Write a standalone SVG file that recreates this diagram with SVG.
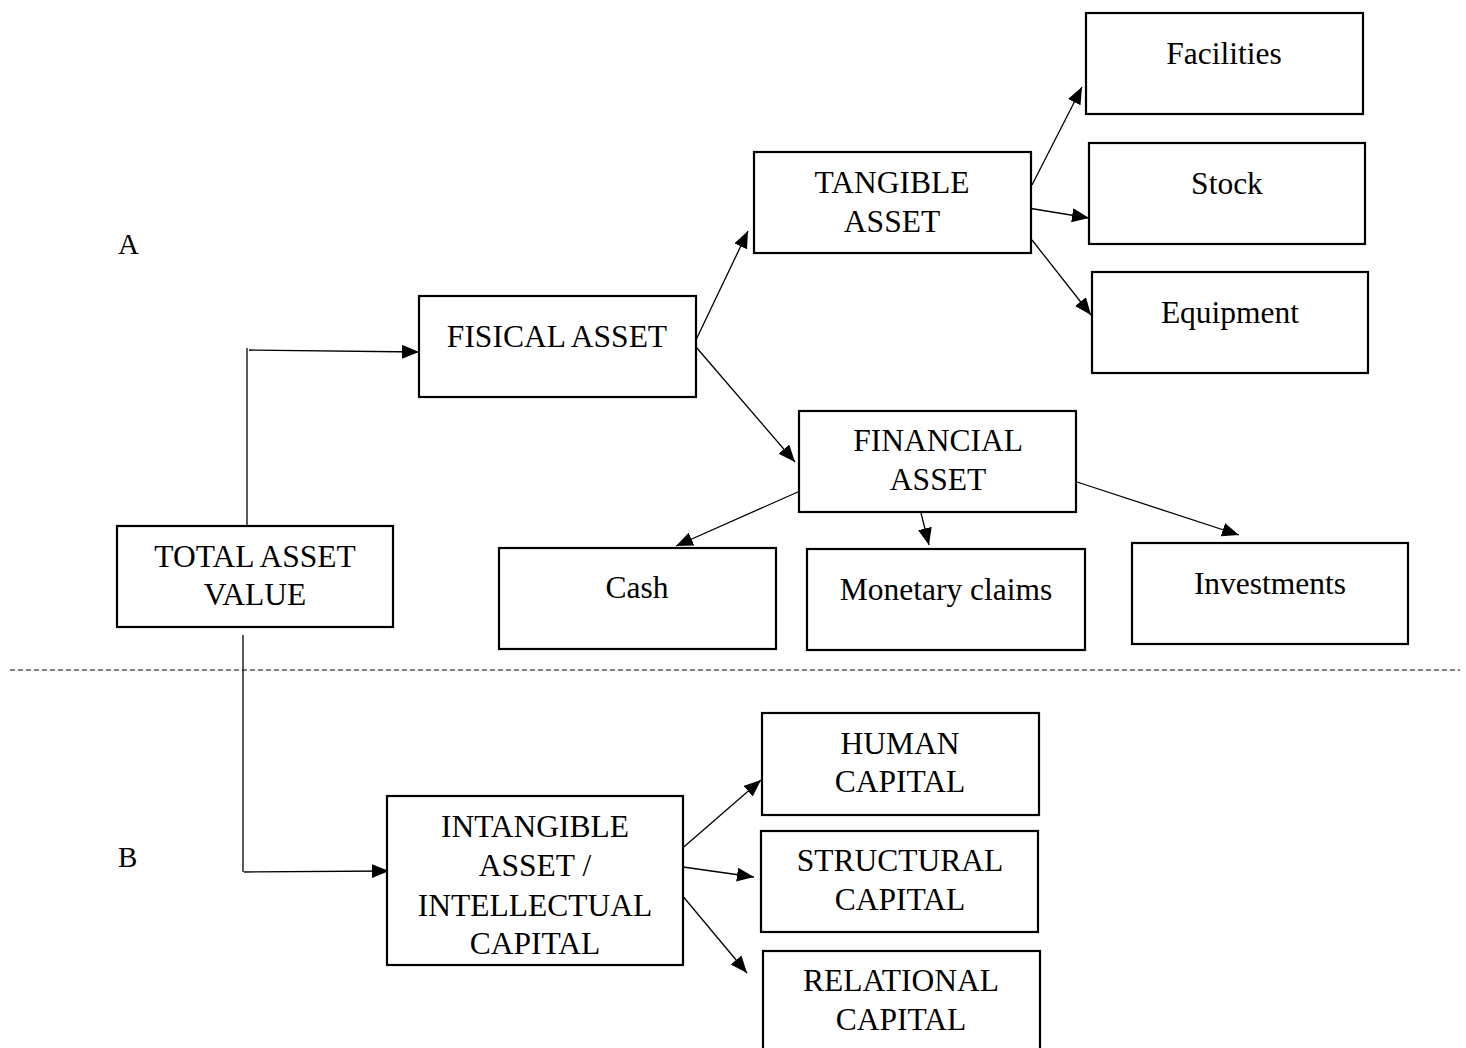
<svg xmlns="http://www.w3.org/2000/svg" width="1466" height="1048" viewBox="0 0 1466 1048">
<style>
.box{fill:#fff;stroke:#000;stroke-width:2.2}
.t{font-family:"Liberation Serif","Times New Roman",serif;font-size:31.5px;fill:#000;text-anchor:middle}
.lbl{font-family:"Liberation Serif","Times New Roman",serif;font-size:29px;fill:#000}
.c{fill:none;stroke:#000;stroke-width:1.3}
.a{marker-end:url(#ah)}
</style>
<defs>
<marker id="ah" markerUnits="userSpaceOnUse" markerWidth="18" markerHeight="15" refX="17" refY="7" orient="auto">
<path d="M0,0 L17,7 L0,14 z" fill="#000"/>
</marker>
</defs>
<rect width="1466" height="1048" fill="#fff"/>
<text class="lbl" x="118" y="254">A</text>
<text class="lbl" x="118" y="867">B</text>
<line x1="10" y1="670" x2="1460" y2="670" stroke="#000" stroke-width="1.2" stroke-dasharray="5,3"/>
<g id="connectors">
<path class="c" d="M247,526 V348"/>
<path class="c a" d="M249,350 L419,352"/>
<path class="c" d="M243,635 V872"/>
<path class="c a" d="M244,872 L389,871"/>
<path class="c a" d="M695,342 L748,231"/>
<path class="c a" d="M696,347 L795,462"/>
<path class="c a" d="M1032,185 L1082,87"/>
<path class="c a" d="M1028,208 L1089,218"/>
<path class="c a" d="M1032,240 L1091,315"/>
<path class="c a" d="M800,491 L676,546"/>
<path class="c a" d="M921,513 L929,545"/>
<path class="c a" d="M1077,482 L1239,535"/>
<path class="c a" d="M678,852 L761,780"/>
<path class="c a" d="M683,867 L754,877"/>
<path class="c a" d="M681,894 L747,973"/>
</g>
<g id="total"><rect class="box" x="117" y="526" width="276" height="101"/><text class="t" x="255" y="567">TOTAL ASSET</text><text class="t" x="255" y="605">VALUE</text></g>
<g id="fisical"><rect class="box" x="419" y="296" width="277" height="101"/><text class="t" x="557" y="347">FISICAL ASSET</text></g>
<g id="tangible"><rect class="box" x="754" y="152" width="277" height="101"/><text class="t" x="892" y="193">TANGIBLE</text><text class="t" x="892" y="232">ASSET</text></g>
<g id="facilities"><rect class="box" x="1086" y="13" width="277" height="101"/><text class="t" x="1224" y="64">Facilities</text></g>
<g id="stock"><rect class="box" x="1089" y="143" width="276" height="101"/><text class="t" x="1227" y="194">Stock</text></g>
<g id="equipment"><rect class="box" x="1092" y="272" width="276" height="101"/><text class="t" x="1230" y="323">Equipment</text></g>
<g id="financial"><rect class="box" x="799" y="411" width="277" height="101"/><text class="t" x="938" y="451">FINANCIAL</text><text class="t" x="938" y="490">ASSET</text></g>
<g id="cash"><rect class="box" x="499" y="548" width="277" height="101"/><text class="t" x="637" y="598">Cash</text></g>
<g id="monetary"><rect class="box" x="807" y="549" width="278" height="101"/><text class="t" x="946" y="600">Monetary claims</text></g>
<g id="investments"><rect class="box" x="1132" y="543" width="276" height="101"/><text class="t" x="1270" y="594">Investments</text></g>
<g id="intangible"><rect class="box" x="387" y="796" width="296" height="169"/><text class="t" x="535" y="837">INTANGIBLE</text><text class="t" x="535" y="876">ASSET /</text><text class="t" x="535" y="916">INTELLECTUAL</text><text class="t" x="535" y="954">CAPITAL</text></g>
<g id="human"><rect class="box" x="762" y="713" width="277" height="102"/><text class="t" x="900" y="754">HUMAN</text><text class="t" x="900" y="792">CAPITAL</text></g>
<g id="structural"><rect class="box" x="761" y="831" width="277" height="101"/><text class="t" x="900" y="871">STRUCTURAL</text><text class="t" x="900" y="910">CAPITAL</text></g>
<g id="relational"><rect class="box" x="763" y="951" width="277" height="102"/><text class="t" x="901" y="991">RELATIONAL</text><text class="t" x="901" y="1030">CAPITAL</text></g>
</svg>
